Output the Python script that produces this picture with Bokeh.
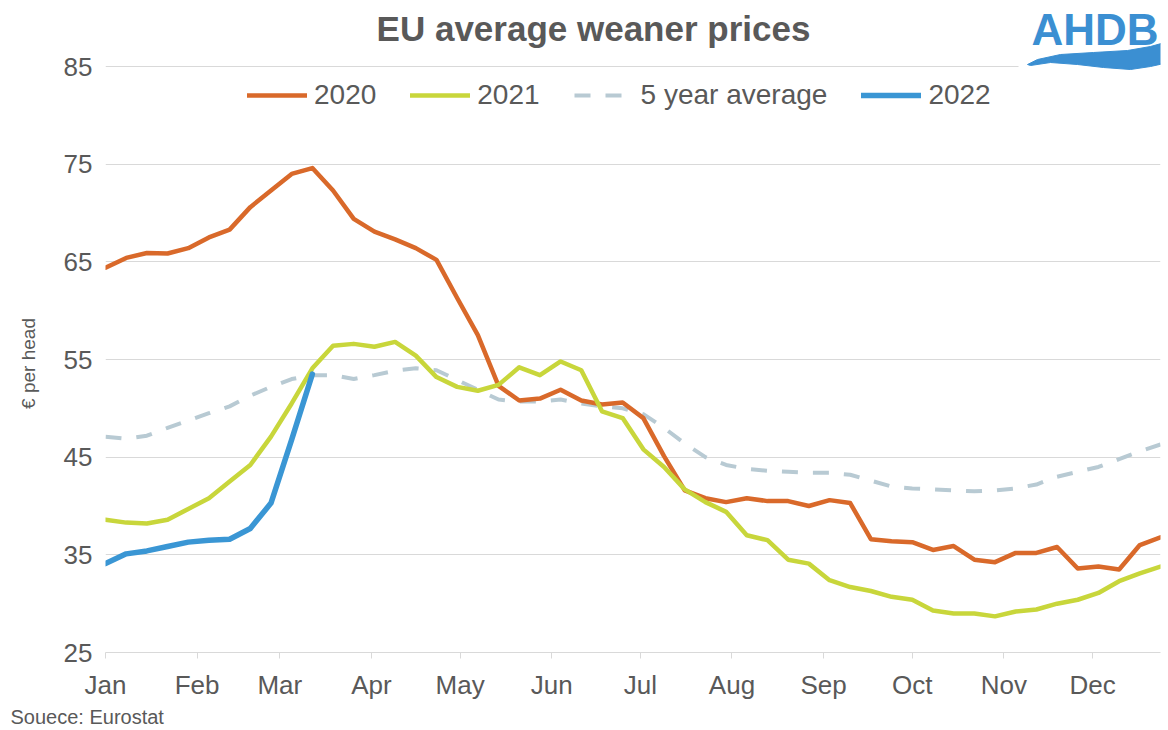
from bokeh.plotting import figure
from bokeh.models import (Legend, LegendItem, Label, PolyAnnotation, BoxAnnotation,
                          FixedTicker, Range1d, Title)
from bokeh.embed import file_html
from bokeh.resources import INLINE

# ---- data (weekly, 52 weeks) ----
week_days = [7 * i for i in range(52)]

y2020 = [64.4, 65.4, 65.9, 65.85, 66.4, 67.5, 68.3, 70.6, 72.3, 74.0,
         74.6, 72.3, 69.4, 68.1, 67.3, 66.4, 65.2, 61.3, 57.5, 52.3,
         50.8, 51.0, 51.9, 50.8, 50.4, 50.6, 49.0, 45.1, 41.6, 40.8,
         40.4, 40.8, 40.5, 40.5, 40.0, 40.6, 40.3, 36.6, 36.4, 36.3,
         35.5, 35.9, 34.5, 34.25, 35.2, 35.2, 35.8, 33.6, 33.8, 33.5,
         36.0, 36.8]

y2021 = [38.6, 38.3, 38.2, 38.6, 39.7, 40.8, 42.5, 44.2, 47.1, 50.5,
         54.1, 56.4, 56.6, 56.3, 56.8, 55.4, 53.2, 52.2, 51.8, 52.4,
         54.2, 53.4, 54.8, 53.9, 49.7, 49.0, 45.8, 44.0, 41.7, 40.4,
         39.4, 37.0, 36.5, 34.5, 34.1, 32.4, 31.7, 31.3, 30.7, 30.4,
         29.3, 29.0, 29.0, 28.7, 29.2, 29.4, 30.0, 30.4, 31.1, 32.3,
         33.1, 33.8]

avg5 = [47.1, 46.9, 47.2, 48.0, 48.75, 49.5, 50.2, 51.3, 52.2, 53.0,
        53.4, 53.4, 53.0, 53.4, 53.85, 54.1, 53.9, 52.9, 51.9, 50.9,
        50.7, 50.7, 50.9, 50.5, 50.2, 50.0, 49.4, 48.0, 46.4, 45.0,
        44.2, 43.8, 43.6, 43.5, 43.4, 43.4, 43.2, 42.6, 42.0, 41.8,
        41.7, 41.6, 41.5, 41.6, 41.8, 42.2, 43.0, 43.5, 44.0, 44.8,
        45.6, 46.3]

y2022 = [34.1, 35.1, 35.4, 35.85, 36.3, 36.5, 36.6, 37.7, 40.3, 46.8, 53.5]

month_start_days = [0, 31, 59, 90, 120, 151, 181, 212, 243, 273, 304, 334]
month_labels = ["Jan", "Feb", "Mar", "Apr", "May", "Jun",
                "Jul", "Aug", "Sep", "Oct", "Nov", "Dec"]
y_ticks = [25, 35, 45, 55, 65, 75, 85]

# ---- style ----
FONT = "Liberation Sans"
TXT = "#595959"
GRID = "#D9D9D9"
C2020 = "#D9692A"
C2021 = "#C8D63B"
CAVG = "#B8CAD3"
C2022 = "#3A96D4"
LOGO = "#3B8FD2"

W, H = 1168, 730
F_LEFT, F_RIGHT, F_BOTTOM = 105, 1160, 652   # frame edges on the page
PX_PER_UNIT = (F_BOTTOM - 66) / (85 - 25)       # 85 gridline sits at y=66
y_top = 85 + 66 / PX_PER_UNIT                   # frame reaches the canvas top

p = figure(width=W, height=H, output_backend="svg", toolbar_location=None,
           x_range=Range1d(0, 357), y_range=Range1d(25, y_top),
           min_border_left=F_LEFT, min_border_right=W - F_RIGHT, min_border_top=0,
           min_border_bottom=H - F_BOTTOM)
p.outline_line_color = None
p.background_fill_color = "white"
p.border_fill_color = "white"

p.xgrid.grid_line_color = None
p.ygrid.grid_line_color = GRID
p.ygrid.grid_line_width = 1

p.yaxis.ticker = FixedTicker(ticks=y_ticks)
p.yaxis.axis_line_color = None
p.yaxis.major_tick_line_color = None
p.yaxis.minor_tick_line_color = None
p.yaxis.major_label_text_font = FONT
p.yaxis.major_label_text_font_size = "26px"
p.yaxis.major_label_text_color = TXT
p.yaxis.major_label_standoff = 7
p.yaxis.axis_label = "€ per head" + "\u00a0" * 14
p.yaxis.axis_label_text_font = FONT
p.yaxis.axis_label_text_font_size = "19px"
p.yaxis.axis_label_text_font_style = "normal"
p.yaxis.axis_label_text_color = TXT
p.yaxis.axis_label_standoff = 22

p.xaxis.ticker = FixedTicker(ticks=month_start_days)
p.xaxis.major_label_overrides = {d: m for d, m in zip(month_start_days, month_labels)}
p.xaxis.axis_line_color = GRID
p.xaxis.major_tick_line_color = GRID
p.xaxis.major_tick_in = 0
p.xaxis.major_tick_out = 6
p.xaxis.minor_tick_line_color = None
p.xaxis.major_label_text_font = FONT
p.xaxis.major_label_text_font_size = "26px"
p.xaxis.major_label_text_color = TXT
p.xaxis.major_label_standoff = 11

p.add_layout(Title(text="Souece: Eurostat", align="left", offset=10 - F_LEFT,
                   text_font=FONT, text_font_size="20px", text_font_style="normal",
                   text_color=TXT, standoff=2), "below")

r_avg = p.line(week_days, avg5, line_color=CAVG, line_width=4, line_dash="16 15")
r20 = p.line(week_days, y2020, line_color=C2020, line_width=4.5, line_join="round", line_cap="round")
r21 = p.line(week_days, y2021, line_color=C2021, line_width=4.5, line_join="round", line_cap="round")
r22 = p.line(week_days[:len(y2022)], y2022, line_color=C2022, line_width=5.5,
             line_join="round", line_cap="round")

# frame-relative screen coordinates (frame left / bottom on the page)
def fx(sx):
    return sx - F_LEFT

def fy(sy):
    return F_BOTTOM - sy

legend = Legend(items=[LegendItem(label="2020", renderers=[r20]),
                       LegendItem(label="2021", renderers=[r21]),
                       LegendItem(label="5 year average", renderers=[r_avg]),
                       LegendItem(label="2022", renderers=[r22])],
                orientation="horizontal", location=(fx(247), fy(111)),
                padding=0, margin=0, spacing=34, label_standoff=7,
                glyph_width=60, glyph_height=30, label_height=30,
                label_text_font=FONT, label_text_font_size="28px",
                label_text_color=TXT, border_line_alpha=0,
                background_fill_alpha=0)
p.add_layout(legend)

p.add_layout(Label(x=fx(593), y=fy(28), x_units="screen", y_units="screen",
                   text="EU average weaner prices", text_align="center",
                   text_baseline="middle", text_font=FONT, text_font_size="35px",
                   text_font_style="bold", text_color=TXT))

# logo
p.add_layout(BoxAnnotation(left=fx(1018), right=fx(1168), top=fy(58), bottom=fy(74),
                           left_units="screen", right_units="screen",
                           top_units="screen", bottom_units="screen",
                           fill_color="white", fill_alpha=1, line_alpha=0))
p.add_layout(Label(x=fx(1031), y=fy(29), x_units="screen", y_units="screen",
                   text="AHDB", text_align="left", text_baseline="middle",
                   text_font=FONT, text_font_size="44px", text_font_style="bold",
                   text_color=LOGO))
wave_sx = [1027, 1037, 1060, 1093, 1127, 1150, 1168, 1168, 1150, 1130, 1103, 1077, 1050, 1030]
wave_sy = [64, 59, 54, 52, 50, 46, 41, 62, 66, 69, 67, 64, 62, 65]
p.add_layout(PolyAnnotation(xs=[fx(v) for v in wave_sx], ys=[fy(v) for v in wave_sy],
                            xs_units="screen", ys_units="screen",
                            fill_color=LOGO, fill_alpha=1, line_color=LOGO, line_alpha=1))

open("out.html", "w").write(file_html(p, INLINE))
